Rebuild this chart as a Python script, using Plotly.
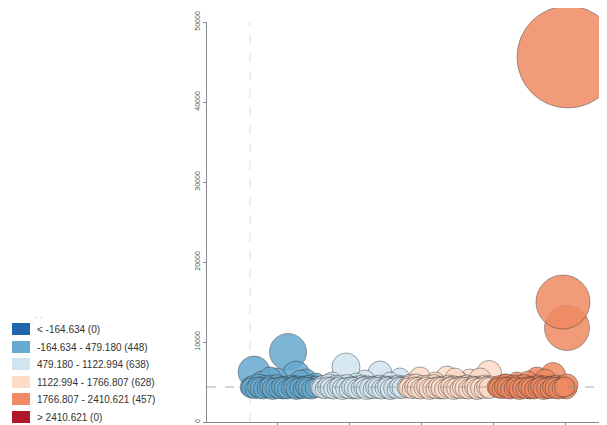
import plotly.graph_objects as go

# legend classes (equal interval breaks)
class_labels = ["< -164.634 (0)", "-164.634 - 479.180 (448)", "479.180 - 1122.994 (638)",
                "1122.994 - 1766.807 (628)", "1766.807 - 2410.621 (457)", "> 2410.621 (0)"]
class_colors = ["#2166ac", "#67a9cf", "#d1e5f0", "#fddbc7", "#ef8a62", "#b2182b"]

# bubbles per class: x, y, size (upper bubbles first, then the dense band)
blue_x = [-163, 73, 129, -10, -108, 198, 268, -52, 156,
          -191, -170, -149, -129, -108, -87, -66, -45, -24, -3, 17, 38, 59, 80, 101, 122, 142, 163, 184, 205, 226, 247, 268,
          -181, -160, -139, -118, -97, -76, -55, -34, -13, 7, 28, 49, 70, 91, 112, 132, 153, 174, 195, 216, 237, 258]
blue_y = [6250, 8750, 5875, 5250, 5000, 5250, 4875, 5500, 5250,
          4375, 4500, 4250, 4625, 4375, 4500, 4250, 4500, 4375, 4625, 4375, 4250, 4500, 4375, 4625, 4375, 4500, 4250, 4500, 4375, 4625, 4375, 4500,
          4250, 4125, 4375, 4250, 4125, 4250, 4375, 4125, 4250, 4125, 4375, 4250, 4125, 4250, 4375, 4125, 4250, 4125, 4375, 4250, 4125, 4250]
blue_s = [32, 37, 28, 24, 22, 22, 20, 22, 20,
          20, 21, 20, 22, 20, 21, 20, 22, 20, 21, 20, 22, 20, 21, 20, 22, 20, 21, 20, 22, 20, 21, 20,
          20, 19, 20, 21, 20, 19, 20, 21, 20, 19, 20, 21, 20, 19, 20, 21, 20, 19, 20, 21, 20, 19]

lblue_x = [476, 712, 851, 608, 379, 782, 546,
           295, 316, 337, 358, 379, 400, 420, 441, 462, 483, 504, 525, 546, 566, 587, 608, 629, 650, 671, 692, 712, 733, 754, 775, 796, 817, 837, 858, 879,
           306, 327, 348, 369, 390, 410, 431, 452, 473, 494, 515, 536, 556, 577, 598, 619, 640, 661, 682, 702, 723, 744, 765, 786, 807, 827, 848, 869]
lblue_y = [6875, 6125, 5500, 5250, 5000, 5125, 5000,
           4375, 4500, 4250, 4625, 4375, 4500, 4250, 4500, 4375, 4625, 4375, 4250, 4500, 4375, 4625, 4375, 4500, 4250, 4500, 4375, 4625, 4375, 4500, 4250, 4500, 4375, 4625, 4375, 4500,
           4250, 4125, 4375, 4250, 4125, 4250, 4375, 4125, 4250, 4125, 4375, 4250, 4125, 4250, 4375, 4125, 4250, 4125, 4375, 4250, 4125, 4250, 4375, 4125, 4250, 4125, 4375, 4250]
lblue_s = [28, 24, 20, 20, 20, 18, 18,
           20, 21, 20, 22, 20, 21, 20, 22, 20, 21, 20, 22, 20, 21, 20, 22, 20, 21, 20, 22, 20, 21, 20, 22, 20, 21, 20, 22, 20,
           20, 19, 20, 21, 20, 19, 20, 21, 20, 19, 20, 21, 20, 19, 20, 21, 20, 19, 20, 21, 20, 19, 20, 21, 20, 19, 20, 21]

peach_x = [990, 1178, 1338, 1470, 1095, 1268, 1407, 921, 1234,
           900, 921, 942, 963, 983, 1004, 1025, 1046, 1067, 1088, 1108, 1129, 1150, 1171, 1192, 1213, 1234, 1254, 1275, 1296, 1317, 1338, 1359, 1380, 1400, 1421, 1442, 1463, 1484,
           911, 932, 953, 973, 994, 1015, 1036, 1057, 1078, 1098, 1119, 1140, 1161, 1182, 1203, 1224, 1244, 1265, 1286, 1307, 1328, 1349, 1370, 1390, 1411, 1432, 1453, 1474]
peach_y = [5500, 5625, 5250, 6125, 5000, 5000, 5375, 4875, 5500,
           4375, 4500, 4250, 4625, 4375, 4500, 4250, 4500, 4375, 4625, 4375, 4250, 4500, 4375, 4625, 4375, 4500, 4250, 4500, 4375, 4625, 4375, 4500, 4250, 4500, 4375, 4625, 4375, 4500,
           4250, 4125, 4375, 4250, 4125, 4250, 4375, 4125, 4250, 4125, 4375, 4250, 4125, 4250, 4375, 4125, 4250, 4125, 4375, 4250, 4125, 4250, 4375, 4125, 4250, 4125, 4375, 4250]
peach_s = [22, 22, 22, 25, 20, 20, 22, 18, 20,
           20, 21, 20, 22, 20, 21, 20, 22, 20, 21, 20, 22, 20, 21, 20, 22, 20, 21, 20, 22, 20, 21, 20, 22, 20, 21, 20, 22, 20,
           20, 19, 20, 21, 20, 19, 20, 21, 20, 19, 20, 21, 20, 19, 20, 21, 20, 19, 20, 21, 20, 19, 20, 21, 20, 19, 20, 21]

orange_x = [1915, 1803, 1664, 1859, 1741, 1581,
            1526, 1546, 1567, 1588, 1609, 1630, 1651, 1671, 1692, 1713, 1734, 1755, 1776, 1797, 1817, 1838, 1859, 1880, 1901, 1922, 1942, 1963, 1984, 2005, 2012,
            1536, 1557, 1578, 1599, 1620, 1641, 1661, 1682, 1703, 1724, 1745, 1766, 1787, 1807, 1828, 1849, 1870, 1891, 1912, 1932, 1953, 1974, 1995,
            2012, 1984, 2019]
orange_y = [5875, 5500, 5000, 5250, 5125, 4750,
            4375, 4500, 4250, 4625, 4375, 4500, 4250, 4500, 4375, 4625, 4375, 4250, 4500, 4375, 4625, 4375, 4500, 4250, 4500, 4375, 4625, 4375, 4500, 4250, 4625,
            4250, 4125, 4375, 4250, 4125, 4250, 4375, 4125, 4250, 4125, 4375, 4250, 4125, 4250, 4375, 4125, 4250, 4125, 4375, 4250, 4125, 4250, 4375,
            11750, 15000, 45625]
orange_s = [25, 22, 20, 22, 20, 20,
            20, 21, 20, 22, 20, 21, 20, 22, 20, 21, 20, 22, 20, 21, 20, 22, 20, 21, 20, 22, 20, 21, 20, 22, 22,
            20, 19, 20, 21, 20, 19, 20, 21, 20, 19, 20, 21, 20, 19, 20, 21, 20, 19, 20, 21, 20, 19, 20,
            45, 54, 102]

y_ticks = [0, 10000, 20000, 30000, 40000, 50000]
x_ticks = [0, 500, 1000, 1500, 2000]
mean_y = 4375
ref_x = -191

series = [(blue_x, blue_y, blue_s, class_colors[1]),
          (lblue_x, lblue_y, lblue_s, class_colors[2]),
          (peach_x, peach_y, peach_s, class_colors[3]),
          (orange_x, orange_y, orange_s, class_colors[4])]

fig = go.Figure()
for xs, ys, ss, col in series:
    fig.add_trace(go.Scatter(x=xs, y=ys, mode="markers", cliponaxis=False, showlegend=False,
        marker=dict(size=ss, sizemode="diameter", color=col, opacity=0.85,
                    line=dict(color="rgba(45,45,45,0.55)", width=0.9))))

# reference lines
fig.add_shape(type="line", xref="x", yref="paper", x0=ref_x, x1=ref_x, y0=0, y1=1,
              line=dict(color="#dddddd", width=1, dash="dash"), layer="below")
fig.add_shape(type="line", xref="paper", yref="y", x0=0, x1=1, y0=mean_y, y1=mean_y,
              line=dict(color="rgba(150,150,150,0.8)", width=1, dash="dash"), layer="above")

# page has an 8px body margin, so the figure is drawn 8px in from the window corner
OFF = 8
L, T, W, H = 207 - OFF, 22 - OFF, 400, 400
def px(xp): return (xp - OFF - L) / W
def py(yp): return (T + H - (yp - OFF)) / H
row_y = [329, 347, 364, 382, 399, 417]
for lab, col, ry in zip(class_labels, class_colors, row_y):
    fig.add_shape(type="rect", xref="paper", yref="paper", x0=px(12), x1=px(30),
                  y0=py(ry + 6), y1=py(ry - 6), fillcolor=col, line=dict(width=0))
    fig.add_annotation(xref="paper", yref="paper", x=px(35), y=py(ry), text=lab, showarrow=False,
                       xanchor="left", yanchor="middle", font=dict(size=10, color="#333333"))
fig.add_annotation(xref="paper", yref="paper", x=px(33), y=py(317), text="-  -", showarrow=False,
                   xanchor="left", yanchor="middle", font=dict(size=6, color="#888888"))

fig.update_layout(width=607 - OFF, height=425 - OFF, margin=dict(l=L, r=0, t=T, b=3),
                  paper_bgcolor="white", plot_bgcolor="white",
                  font=dict(family="Liberation Sans, Arial, sans-serif"))
fig.update_xaxes(range=[-490, 2290], tickvals=x_ticks, showticklabels=False, showgrid=False, zeroline=False,
                 showline=True, linecolor="#888888", ticks="outside", ticklen=3, tickcolor="#888888")
fig.update_yaxes(range=[0, 50000], tickvals=y_ticks, tickformat="d", tickangle=-90, showgrid=False,
                 zeroline=False, showline=True, linecolor="#888888", ticks="outside", ticklen=3,
                 tickcolor="#888888", tickfont=dict(size=7, color="#555555"))
fig.write_html("out.html")
